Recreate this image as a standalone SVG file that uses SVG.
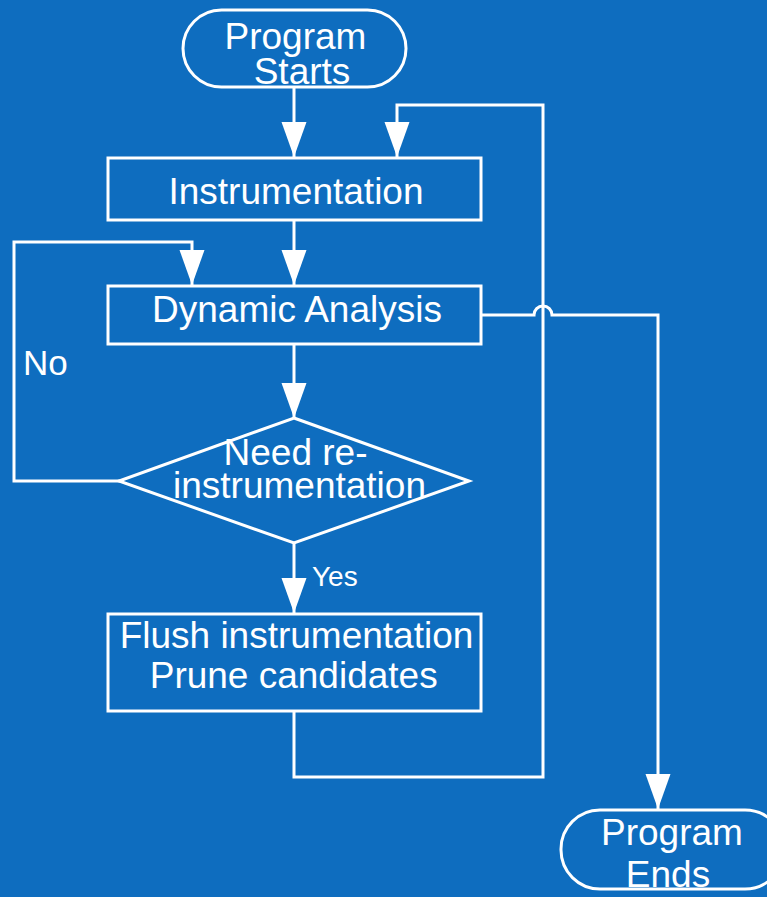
<svg xmlns="http://www.w3.org/2000/svg" width="767" height="897" viewBox="0 0 767 897">
<style>
.shape{fill:none;stroke:#fff;stroke-width:3}
.conn{fill:none;stroke:#fff;stroke-width:3;stroke-linejoin:miter}
.t{font-family:"Liberation Sans",Arial,sans-serif;font-size:37px;fill:#fff;text-anchor:middle}
</style>
<defs>
<marker id="arr" markerUnits="userSpaceOnUse" markerWidth="36" markerHeight="26" refX="35" refY="12.5" orient="auto">
<path d="M0,0 L35,12.5 L0,25 z" fill="#fff"/>
</marker>
</defs>
<rect width="767" height="897" fill="#0e6dbf"/>
<g id="connectors">
<path class="conn" d="M294,88 V157" marker-end="url(#arr)"/>
<path class="conn" d="M294,712 V777 H543 V105 H397 V157" marker-end="url(#arr)"/>
<path class="conn" d="M294,221 V285" marker-end="url(#arr)"/>
<path class="conn" d="M294,345 V418" marker-end="url(#arr)"/>
<path class="conn" d="M120,481 H14 V242 H192 V285" marker-end="url(#arr)"/>
<path class="conn" d="M294,543 V613" marker-end="url(#arr)"/>
<path class="conn" d="M482,315 H534 A9,9 0 0 1 552,315 H658 V809" marker-end="url(#arr)"/>
<text x="23" y="375" style="font-family:'Liberation Sans',Arial,sans-serif;font-size:35px;fill:#fff">No</text>
<text x="312" y="586" style="font-family:'Liberation Sans',Arial,sans-serif;font-size:28px;fill:#fff">Yes</text>
</g>
<g id="start">
<rect class="shape" x="183" y="10" width="223" height="77" rx="38.5"/>
<text class="t" x="295.5" y="49">Program</text>
<text class="t" x="302" y="84">Starts</text>
</g>
<g id="instrumentation">
<rect class="shape" x="108" y="158" width="373" height="62"/>
<text class="t" x="296" y="204">Instrumentation</text>
</g>
<g id="dynamic">
<rect class="shape" x="108" y="286" width="373" height="58"/>
<text class="t" x="297" y="322">Dynamic Analysis</text>
</g>
<g id="decision">
<polygon class="shape" points="294,418 469,481 294,543 119,481"/>
<text class="t" x="295.5" y="465">Need re-</text>
<text class="t" x="299.5" y="498">instrumentation</text>
</g>
<g id="flush">
<rect class="shape" x="108" y="614" width="373" height="97"/>
<text class="t" x="296.5" y="648">Flush instrumentation</text>
<text class="t" x="293.7" y="688">Prune candidates</text>
</g>
<g id="end">
<rect class="shape" x="561" y="810" width="223" height="79" rx="39"/>
<text class="t" x="672" y="845">Program</text>
<text class="t" x="668" y="887">Ends</text>
</g>
</svg>
